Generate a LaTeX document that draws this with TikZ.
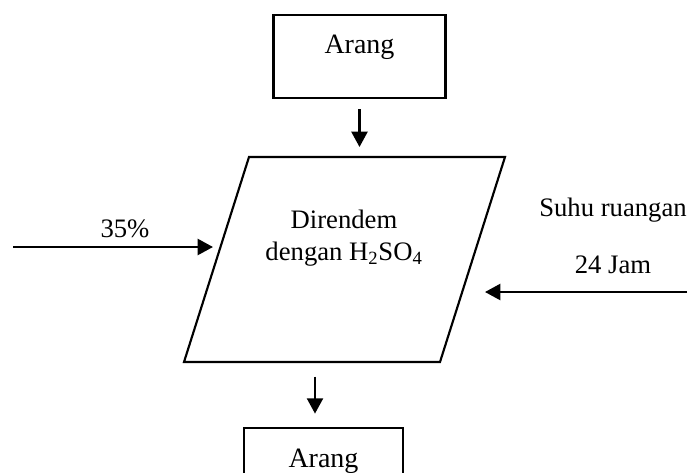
\documentclass[tikz,border=0pt]{standalone}
\usepackage{fontspec}
\setmainfont{Liberation Serif}
\usetikzlibrary{arrows.meta,positioning,calc}

\begin{document}
\begin{tikzpicture}[
  x=0.75pt, y=-0.75pt,
  every node/.style={font=\fontsize{20}{24}\selectfont},
  box/.style={draw, line width=1.6pt, inner ysep=0pt, align=center},
  jajar/.style={draw, line width=1.6pt, line join=miter},
  arrow/.style={-{Triangle[length=11.5pt, width=12pt]}, line width=1.8pt},
]
\useasboundingbox (0,0) rectangle (689,472);
\clip (0,0) rectangle (689,472);

%% ── Bahan ────────────────────────────────────────────────────────────────────
\node[box, minimum width=129pt, text height=28.5pt, text depth=33.75pt,
      font=\fontsize{21}{25}\selectfont]
  (arang1) at (359.5,56.5) {Arang};

%% ── Proses perendaman ────────────────────────────────────────────────────────
\coordinate (rendamBL) at (184,362);
\coordinate (rendamTL) at (249,157);
\coordinate (rendamTR) at (505,157);
\coordinate (rendamBR) at (440,362);
\draw[jajar] (rendamBL) -- (rendamTL) -- (rendamTR) -- (rendamBR) -- cycle;
\node[align=center] (teks) at (344,238) {Direndem\\dengan H\textsubscript{2}SO\textsubscript{4}};

%% ── Hasil ────────────────────────────────────────────────────────────────────
\node[box, minimum width=119.25pt, text height=29.25pt, text depth=22.5pt,
      font=\fontsize{21}{25}\selectfont]
  (arang2) at (323.5,462.5) {Arang};

%% ── Keterangan ───────────────────────────────────────────────────────────────
\node (persen) at (125,229) {35\%};
\node (suhu) at (613,210) {Suhu ruangan};
\node (waktu) at (613,265) {24 Jam};

\coordinate (kiriA) at (13,247);
\coordinate (kiriB) at (213,247);
\coordinate (kananA) at (687,292);
\coordinate (kananB) at (485,292);
\coordinate (bawah) at (315,0);

%% ── Panah ────────────────────────────────────────────────────────────────────
\draw[arrow] ([yshift=-7.5pt]arang1.south) -- ([yshift=7.5pt]rendamTL -| arang1.south);
\draw[arrow] ([yshift=-11pt]rendamBL -| bawah) -- ([yshift=10pt]arang2.north -| bawah);
\draw[arrow] (kiriA) -- (kiriB);
\draw[arrow] (kananA) -- (kananB);

\end{tikzpicture}
\end{document}
